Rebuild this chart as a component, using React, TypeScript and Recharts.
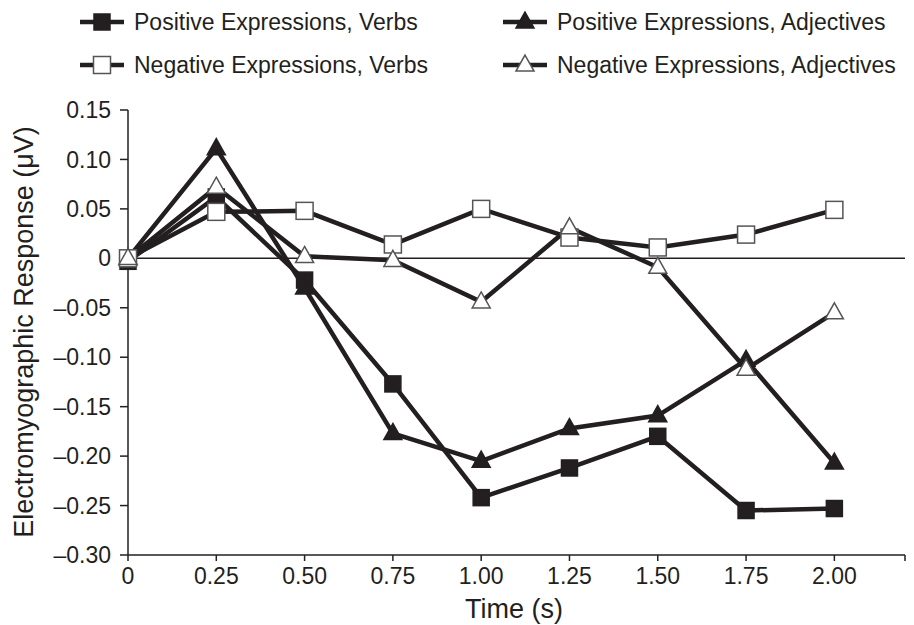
import React from 'react';
import { LineChart, Line, XAxis, YAxis, ReferenceLine } from 'recharts';

const times = [0, 0.25, 0.5, 0.75, 1.0, 1.25, 1.5, 1.75, 2.0];
const posVerbs = [-0.003, 0.062, -0.022, -0.127, -0.242, -0.212, -0.18, -0.255, -0.253];
const posAdjectives = [0, 0.111, -0.03, -0.177, -0.205, -0.172, -0.159, -0.103, -0.207];
const negVerbs = [0, 0.047, 0.048, 0.014, 0.05, 0.021, 0.011, 0.024, 0.049];
const negAdjectives = [0, 0.072, 0.002, -0.002, -0.044, 0.031, -0.009, -0.112, -0.055];

const xTicks = [0, 0.25, 0.5, 0.75, 1.0, 1.25, 1.5, 1.75, 2.0, 2.2];
const yTicks = [0.15, 0.1, 0.05, 0, -0.05, -0.1, -0.15, -0.2, -0.25, -0.3];

const ink = '#231f20';
const font = '"Liberation Sans", Arial, sans-serif';

const data = times.map((t, i) => ({
  t,
  posVerbs: posVerbs[i],
  posAdjectives: posAdjectives[i],
  negVerbs: negVerbs[i],
  negAdjectives: negAdjectives[i],
}));

type Shape = 'square' | 'triangle';

function markerEl(cx: number, cy: number, shape: Shape, filled: boolean, key?: string) {
  const fill = filled ? ink : '#fff';
  const stroke = filled ? ink : '#555';
  if (shape === 'square') {
    const s = filled ? 16 : 17;
    return <rect key={key} x={cx - s / 2} y={cy - s / 2} width={s} height={s} fill={fill} stroke={stroke} strokeWidth={1.5} />;
  }
  const w = 18;
  const h = 16;
  const pts = `${cx},${cy - h * 0.62} ${cx + w / 2},${cy + h * 0.38} ${cx - w / 2},${cy + h * 0.38}`;
  return <polygon key={key} points={pts} fill={fill} stroke={stroke} strokeWidth={1.5} strokeLinejoin="miter" />;
}

const dotFor = (shape: Shape, filled: boolean) => (p: any) =>
  markerEl(p.cx, p.cy, shape, filled, `${shape}-${filled}-${p.index}`);

const series = [
  { key: 'posVerbs', name: 'Positive Expressions, Verbs', shape: 'square' as Shape, filled: true },
  { key: 'posAdjectives', name: 'Positive Expressions, Adjectives', shape: 'triangle' as Shape, filled: true },
  { key: 'negVerbs', name: 'Negative Expressions, Verbs', shape: 'square' as Shape, filled: false },
  { key: 'negAdjectives', name: 'Negative Expressions, Adjectives', shape: 'triangle' as Shape, filled: false },
];

// legend entries: left edge of icon, row centre
const legendPos = [
  { x: 80, y: 22 },
  { x: 503, y: 22 },
  { x: 80, y: 65 },
  { x: 503, y: 65 },
];

const fmtX = (v: number) => (v === 0 ? '0' : v > 2.1 ? '' : v.toFixed(2));
const fmtY = (v: number) => (v === 0 ? '0' : v < 0 ? `\u2013${Math.abs(v).toFixed(2)}` : v.toFixed(2));

export default function App() {
  return (
    <div style={{ position: 'relative', width: 914, height: 625, background: '#fff', fontFamily: font }}>
      <style>{'body{margin:0}'}</style>
      {series.map((s, i) => (
        <div key={s.key} style={{ position: 'absolute', left: legendPos[i].x, top: legendPos[i].y - 14, height: 28, display: 'flex', alignItems: 'center' }}>
          <svg width={44} height={28}>
            <line x1={0} y1={14} x2={44} y2={14} stroke={ink} strokeWidth={4.5} />
            {markerEl(22, 14, s.shape, s.filled)}
          </svg>
          <span style={{ marginLeft: 10, fontSize: 23, color: ink, whiteSpace: 'nowrap' }}>{s.name}</span>
        </div>
      ))}
      <LineChart width={914} height={625} data={data} margin={{ top: 110, right: 9, bottom: 40, left: 48 }}>
        <XAxis
          dataKey="t"
          type="number"
          domain={[0, 2.2]}
          ticks={xTicks}
          tickFormatter={fmtX}
          interval={0}
          axisLine={{ stroke: ink, strokeWidth: 1.5 }}
          tickLine={{ stroke: ink, strokeWidth: 1.5 }}
          tickSize={6}
          tickMargin={7}
          height={30}
          tick={{ fill: ink, fontSize: 23, fontFamily: font }}
        />
        <YAxis
          type="number"
          domain={[-0.3, 0.15]}
          ticks={yTicks}
          tickFormatter={fmtY}
          interval={0}
          width={80}
          axisLine={{ stroke: ink, strokeWidth: 1.5 }}
          tickLine={{ stroke: ink, strokeWidth: 1.5 }}
          tickSize={8}
          tickMargin={9}
          tick={{ fill: ink, fontSize: 23, fontFamily: font }}
        />
        <ReferenceLine y={0} stroke={ink} strokeWidth={1.5} />
        {series.map((s) => (
          <Line
            key={s.key}
            dataKey={s.key}
            name={s.name}
            type="linear"
            stroke={ink}
            strokeWidth={4.5}
            dot={dotFor(s.shape, s.filled)}
            activeDot={false}
            isAnimationActive={false}
          />
        ))}
      </LineChart>
      <div style={{ position: 'absolute', left: 0, top: 0, width: 0, height: 0 }}>
        <div
          style={{
            position: 'absolute',
            left: 24,
            top: 332,
            transform: 'translate(-50%, -50%) rotate(-90deg)',
            fontSize: 27,
            color: ink,
            whiteSpace: 'nowrap',
          }}
        >
          Electromyographic Response (μV)
        </div>
      </div>
      <div style={{ position: 'absolute', left: 514, top: 609, transform: 'translate(-50%, -50%)', fontSize: 27, color: ink, whiteSpace: 'nowrap' }}>
        Time (s)
      </div>
    </div>
  );
}
